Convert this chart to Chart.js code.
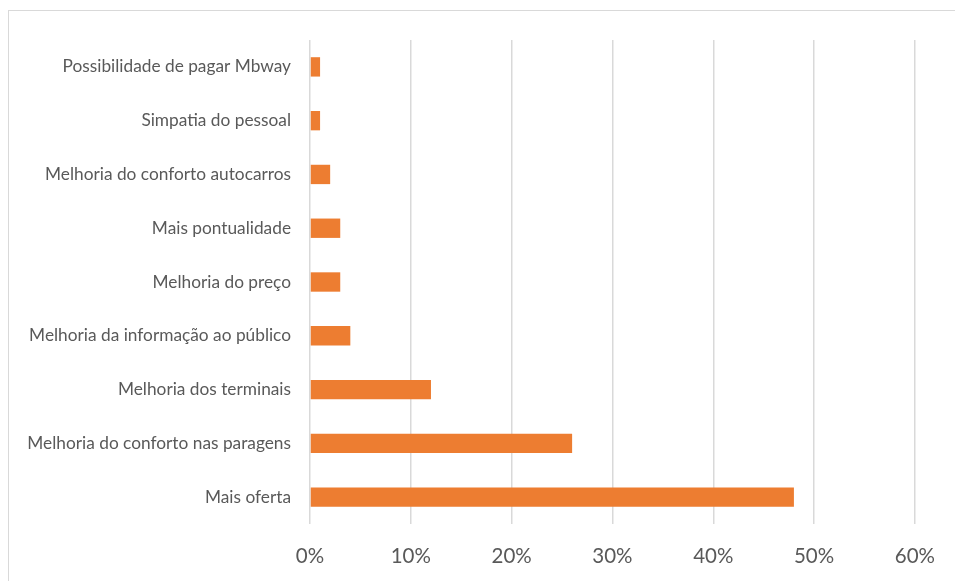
<!DOCTYPE html>
<html>
<head>
<meta charset="utf-8">
<script src="https://cdn.jsdelivr.net/npm/chart.js@4"></script>
<style>
  html, body { margin: 0; padding: 0; background: #fff; overflow: hidden; }
  #frame {
    position: absolute; left: 8px; top: 10px; width: 1000px; height: 700px;
    border: 1px solid #d9d9d9; box-sizing: border-box;
  }
  #wrap { position: absolute; left: 0; top: 0; width: 955px; height: 581px; }
</style>
</head>
<body>
<div id="frame"></div>
<div id="wrap"><canvas id="chart"></canvas></div>
<script>
// categorias (de cima para baixo)
const categories = [
  "Possibilidade de pagar Mbway",
  "Simpatia do pessoal",
  "Melhoria do conforto autocarros",
  "Mais pontualidade",
  "Melhoria do preço",
  "Melhoria da informação ao público",
  "Melhoria dos terminais",
  "Melhoria do conforto nas paragens",
  "Mais oferta"
];
// percentagens
const values = [1, 1, 2, 3, 3, 4, 12, 26, 48];
const xTicks = [0, 10, 20, 30, 40, 50, 60];

const ctx = document.getElementById("chart");
new Chart(ctx, {
  type: "bar",
  data: {
    labels: categories,
    datasets: [{
      data: values,
      backgroundColor: "#ED7D31",
      borderWidth: 0,
      barPercentage: 0.36,
      categoryPercentage: 1.0,
    }],
  },
  options: {
    indexAxis: "y",
    responsive: true,
    maintainAspectRatio: false,
    animation: false,
    layout: { padding: { top: 40, right: 33, left: 0, bottom: 0 } },
    plugins: { legend: { display: false }, tooltip: { enabled: false } },
    scales: {
      x: {
        min: 0,
        max: 60,
        afterBuildTicks: (scale) => { scale.ticks = xTicks.map((v) => ({ value: v })); },
        afterFit: (scale) => { scale.height = 57; },
        border: { display: false },
        grid: { color: "#d9d9d9", lineWidth: 1.5, drawTicks: false },
        ticks: {
          color: "#595959",
          font: { family: "Lato", size: 20.5 },
          padding: 20,
          callback: (v) => v + "%",
        },
      },
      y: {
        afterFit: (scale) => { scale.width = 310; },
        border: { display: false },
        grid: { display: false },
        ticks: {
          color: "#595959",
          font: { family: "Lato", size: 17.3 },
          padding: 11,
        },
      },
    },
  },
});
</script>
</body>
</html>
